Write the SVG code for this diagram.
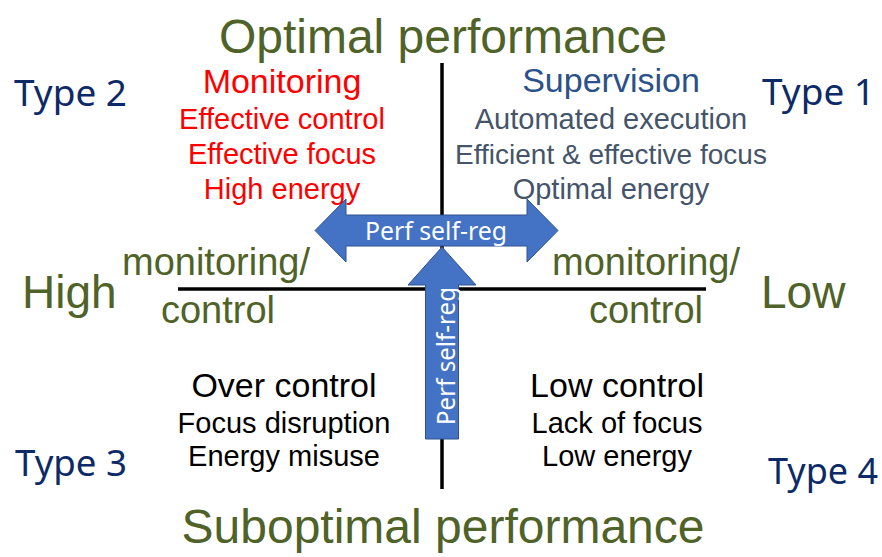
<svg xmlns="http://www.w3.org/2000/svg" width="882" height="557" viewBox="0 0 882 557">
  <style>
    .sans { font-family: "Liberation Sans", Arial, sans-serif; }
    .cal { font-family: "Noto Sans", "Open Sans", sans-serif; }
    .axis-title { fill: #4F6228; font-size: 48px; text-anchor: middle; }
    .axis-end { fill: #4F6228; font-size: 46px; }
    .axis-sub { fill: #4F6228; font-size: 38px; text-anchor: middle; }
    .type { fill: #0C2A68; font-size: 36px; }
    .red { fill: #FF0000; text-anchor: middle; }
    .blue-head { fill: #2A5189; text-anchor: middle; }
    .gray { fill: #44546A; text-anchor: middle; }
    .black { fill: #000000; text-anchor: middle; }
    .axis-line { stroke: #000000; stroke-width: 3.5; fill: none; }
    .arrow { fill: #4472C4; stroke: #2F528F; stroke-width: 1; }
    .arrow-label { fill: #FFFFFF; font-size: 25px; text-anchor: middle; }
  </style>

  <rect width="882" height="557" fill="#FFFFFF"/>

  <!-- axes -->
  <g id="connectors">
    <line class="axis-line" x1="442" y1="63" x2="442" y2="489"/>
    <line class="axis-line" x1="178" y1="289" x2="706" y2="289"/>
  </g>

  <!-- axis titles -->
  <g id="axis-optimal">
    <text class="sans axis-title" x="443" y="53">Optimal performance</text>
  </g>
  <g id="axis-suboptimal">
    <text class="sans axis-title" x="443" y="543">Suboptimal performance</text>
  </g>
  <g id="axis-high">
    <text class="sans axis-end" x="22" y="308">High</text>
    <text class="sans axis-sub" x="216" y="275">monitoring/</text>
    <text class="sans axis-sub" x="218" y="323">control</text>
  </g>
  <g id="axis-low">
    <text class="sans axis-end" x="761" y="308">Low</text>
    <text class="sans axis-sub" x="646" y="275">monitoring/</text>
    <text class="sans axis-sub" x="646" y="323">control</text>
  </g>

  <!-- quadrant type labels -->
  <g id="type-2"><text class="cal type" x="14" y="106" textLength="113" lengthAdjust="spacingAndGlyphs">Type 2</text></g>
  <g id="type-1"><text class="cal type" x="762" y="105" textLength="113" lengthAdjust="spacingAndGlyphs">Type 1</text></g>
  <g id="type-3"><text class="cal type" x="15" y="476" textLength="112" lengthAdjust="spacingAndGlyphs">Type 3</text></g>
  <g id="type-4"><text class="cal type" x="768" y="484" textLength="110" lengthAdjust="spacingAndGlyphs">Type 4</text></g>

  <!-- quadrant descriptions -->
  <g id="quadrant-monitoring" class="sans">
    <text class="red" x="282" y="93" font-size="34">Monitoring</text>
    <text class="red" x="282" y="129" font-size="29">Effective control</text>
    <text class="red" x="282" y="164" font-size="29">Effective focus</text>
    <text class="red" x="282" y="199" font-size="29">High energy</text>
  </g>
  <g id="quadrant-supervision" class="sans">
    <text class="blue-head" x="611" y="92" font-size="34">Supervision</text>
    <text class="gray" x="611" y="129" font-size="29">Automated execution</text>
    <text class="gray" x="611" y="164" font-size="28">Efficient &amp; effective focus</text>
    <text class="gray" x="611" y="199" font-size="29">Optimal energy</text>
  </g>
  <g id="quadrant-over-control" class="sans">
    <text class="black" x="284" y="397" font-size="34">Over control</text>
    <text class="black" x="284" y="433" font-size="29">Focus disruption</text>
    <text class="black" x="284" y="466" font-size="29">Energy misuse</text>
  </g>
  <g id="quadrant-low-control" class="sans">
    <text class="black" x="617" y="397" font-size="34">Low control</text>
    <text class="black" x="617" y="433" font-size="29">Lack of focus</text>
    <text class="black" x="617" y="466" font-size="29">Low energy</text>
  </g>

  <!-- self-regulation arrows -->
  <g id="arrow-horizontal">
    <polygon class="arrow" points="315,230.5 346,199 346,215 527,215 527,199 558,230.5 527,262 527,246 346,246 346,262"/>
    <text class="cal arrow-label" x="436" y="240" textLength="142" lengthAdjust="spacingAndGlyphs">Perf self-reg</text>
  </g>
  <g id="arrow-vertical">
    <polygon class="arrow" points="442,247 476,285 458.5,285 458.5,439 425.5,439 425.5,285 408,285"/>
    <text class="cal arrow-label" transform="translate(455,356) rotate(-90)" x="0" y="0" textLength="138" lengthAdjust="spacingAndGlyphs">Perf self-reg</text>
  </g>
</svg>
